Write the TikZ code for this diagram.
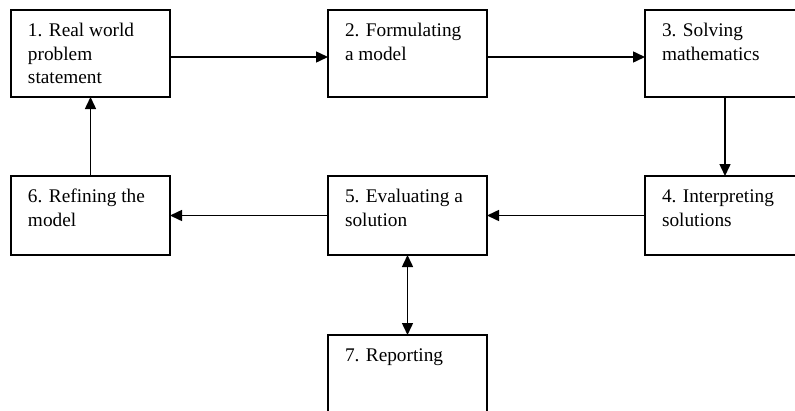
\documentclass[tikz,border=0pt]{standalone}
\usepackage{fontspec}
\setmainfont{Liberation Serif}
\usetikzlibrary{arrows.meta}
\newcommand{\boxtext}[3]{\parbox[c][#1pt][t]{#2pt}{\raggedright\leftskip=17pt\fontsize{19.3}{23.5}\selectfont\rule{0pt}{26.5pt}#3}}
\tikzset{
  stepbox/.style={draw=black, line width=1.7pt, inner sep=0pt, outer sep=0pt, anchor=north west, fill=white},
  conn/.style={line width=1.5pt, -{Triangle[length=12pt,width=11pt]}},
  conn2/.style={line width=1.5pt, {Triangle[length=12pt,width=11pt]}-{Triangle[length=12pt,width=11pt]}}
}
\begin{document}
\begin{tikzpicture}[x=1pt,y=-1pt]
\useasboundingbox (0,0) rectangle (795,410);
\begin{scope}
\clip (0,0) rectangle (795,410);
\node[stepbox] (b1) at (11,10) {\boxtext{87}{159}{1. Real world\\problem\\statement}};
\node[stepbox] (b2) at (328,10) {\boxtext{87}{159}{2. Formulating\\a model}};
\node[stepbox] (b3) at (645,10) {\boxtext{87}{160}{3. Solving\\mathematics}};
\node[stepbox] (b6) at (11,176) {\boxtext{79}{159}{6. Refining the\\model}};
\node[stepbox] (b5) at (328,176) {\boxtext{79}{159}{5. Evaluating a\\solution}};
\node[stepbox] (b4) at (645,176) {\boxtext{79}{160}{4. Interpreting\\solutions}};
\node[stepbox] (b7) at (328,335) {\boxtext{79}{159}{7. Reporting}};
\draw[conn] ([yshift=-3.5pt]b1.east) -- ([yshift=-3.5pt]b2.west);
\draw[conn] ([yshift=-3.5pt]b2.east) -- ([yshift=-3.5pt]b3.west);
\draw[conn] (b3.south) -- (b4.north);
\draw[conn] (b4.west) -- (b5.east);
\draw[conn] (b5.west) -- (b6.east);
\draw[conn] (b6.north) -- (b1.south);
\draw[conn2] (b5.south) -- (b7.north);
\end{scope}
\end{tikzpicture}
\end{document}
